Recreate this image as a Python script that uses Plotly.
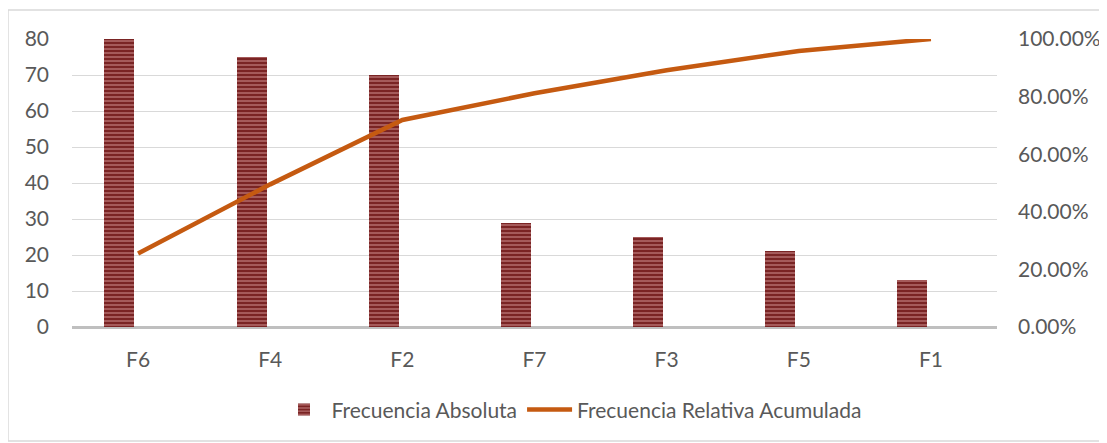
import plotly.graph_objects as go

categories = ["F6", "F4", "F2", "F7", "F3", "F5", "F1"]
frecuencia_absoluta = [80, 75, 70, 29, 25, 21, 13]
frecuencia_relativa_acumulada = [0.2556, 0.4952, 0.7188, 0.8115, 0.8914, 0.9585, 1.0]
left_ticks = [0, 10, 20, 30, 40, 50, 60, 70, 80]
right_ticks = [0, 0.2, 0.4, 0.6, 0.8, 1.0]

FONT = "Lato"
TXT = "#595959"
FS = 21

fig = go.Figure()
fig.add_trace(go.Bar(
    x=categories, y=frecuencia_absoluta, name="Frecuencia Absoluta",
    width=0.227, offset=-0.255,
    marker=dict(color="#7a2424", line=dict(width=0),
                pattern=dict(shape="-", fgcolor="#eab2b2", bgcolor="#7a2424",
                             size=4, solidity=0.38, fillmode="overlay")),
    yaxis="y",
))
fig.add_trace(go.Scatter(
    x=categories, y=frecuencia_relativa_acumulada, name="Frecuencia Relativa Acumulada",
    mode="lines", line=dict(color="#c55a11", width=4.5),
    yaxis="y2",
))

fig.update_layout(
    width=1099, height=435,
    margin=dict(l=64, r=110, t=31, b=116, pad=0, autoexpand=False),
    paper_bgcolor="white", plot_bgcolor="white",
    font=dict(family=FONT, size=FS, color=TXT),
    showlegend=True,
    legend=dict(orientation="h", x=0.54, xanchor="center", y=-0.288, yanchor="middle",
                font=dict(family=FONT, size=FS, color=TXT), itemwidth=45,
                traceorder="normal"),
    xaxis=dict(type="category", range=[-0.5, 6.5], showgrid=False, showline=False,
               automargin=False,
               ticks="", ticklabelstandoff=18, tickfont=dict(size=FS, color=TXT)),
    yaxis=dict(range=[0, 80], tickvals=left_ticks, showgrid=True, gridcolor="#d9d9d9",
               gridwidth=1, zeroline=True, zerolinecolor="#bfbfbf", zerolinewidth=2.5,
               showline=False, ticks="", ticklabelstandoff=22, automargin=False,
               tickfont=dict(size=FS, color=TXT)),
    yaxis2=dict(range=[0, 1], tickvals=right_ticks, tickformat=".2%", overlaying="y",
                side="right", showgrid=False, zeroline=False, showline=False, ticks="",
                ticklabelstandoff=20, automargin=False, tickfont=dict(size=FS, color=TXT)),
    bargap=0,
    shapes=[dict(type="rect", xref="paper", yref="paper",
                 x0=-0.0692, x1=1.1168, y0=-0.396, y1=1.1007,
                 line=dict(color="#d9d9d9", width=1.5), fillcolor="rgba(0,0,0,0)",
                 layer="below")],
)

fig.write_html("out.html")
